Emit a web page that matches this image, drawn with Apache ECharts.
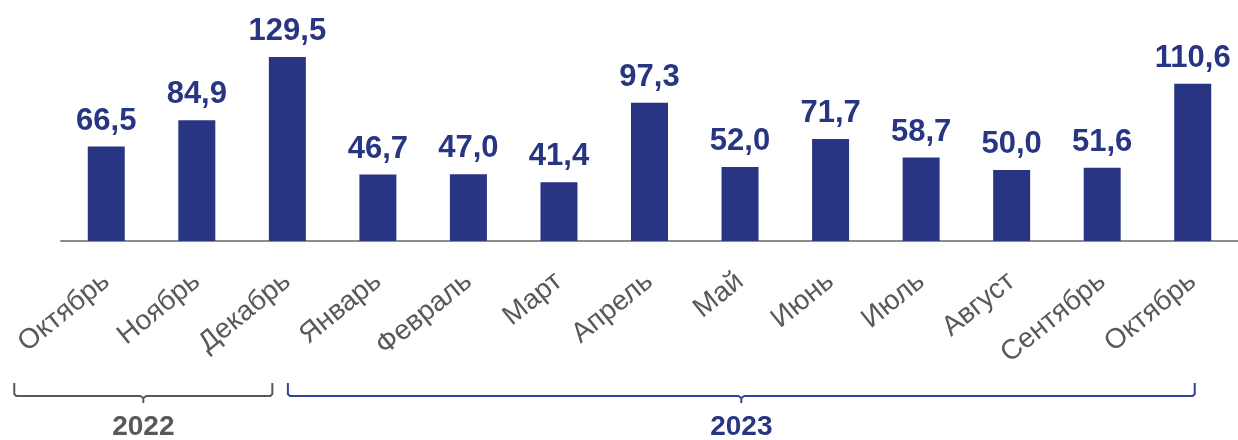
<!DOCTYPE html>
<html><head><meta charset="utf-8">
<script src="https://cdn.jsdelivr.net/npm/echarts@6/dist/echarts.min.js"></script>
<style>html,body{margin:0;padding:0;background:#fff}#c{width:1238px;height:440px}</style>
</head><body><div id="c"></div>
<script>
const categories = ['Октябрь','Ноябрь','Декабрь','Январь','Февраль','Март','Апрель','Май','Июнь','Июль','Август','Сентябрь','Октябрь'];
const values = [66.5,84.9,129.5,46.7,47.0,41.4,97.3,52.0,71.7,58.7,50.0,51.6,110.6];
const years = [{label:'2022', from:0, to:2}, {label:'2023', from:3, to:12}];

const FONT = '"Liberation Sans", Arial, sans-serif';
const BLUE = '#283582';
const GRAY = '#595959';
const chart = echarts.init(document.getElementById('c'));
chart.setOption({
  animation:false,
  grid:{left:61,right:0,top:42,bottom:199},
  xAxis:{type:'category',data:categories,
    axisLine:{lineStyle:{color:'#8c8c8c',width:2}},
    axisTick:{show:false},
    axisLabel:{rotate:39,margin:37,color:GRAY,fontSize:28,fontFamily:FONT,interval:0}},
  yAxis:{type:'value',min:0,max:140,show:false,splitLine:{show:false}},
  series:[{type:'bar',data:values,barWidth:37,
    itemStyle:{color:BLUE},
    label:{show:true,position:'top',distance:10,color:BLUE,fontSize:31,fontWeight:'bold',fontFamily:FONT,
      formatter:p=>p.value.toFixed(1).replace('.',',')}}]
});

const yTop=383, yBot=396, yTick=403;
const defs=[{off:[-92,-15],color:GRAY,textColor:GRAY},{off:[-90,2],color:'#2f4398',textColor:BLUE}];
const g=[];
years.forEach((y,i)=>{
  const x0=chart.convertToPixel({xAxisIndex:0},y.from)+defs[i].off[0];
  const x1=chart.convertToPixel({xAxisIndex:0},y.to)+defs[i].off[1];
  const xm=(x0+x1)/2;
  g.push({type:'polyline',shape:{points:[[x0,yTop],[x0,yBot-2],[x0+2,yBot],[xm-3,yBot],[xm,yBot+2],[xm,yTick]]},style:{stroke:defs[i].color,lineWidth:2,fill:null}});
  g.push({type:'polyline',shape:{points:[[xm,yBot+2],[xm+3,yBot],[x1-2,yBot],[x1,yBot-2],[x1,yTop]]},style:{stroke:defs[i].color,lineWidth:2,fill:null}});
  g.push({type:'text',x:xm,y:427,style:{text:y.label,fill:defs[i].textColor,font:'bold 28px '+FONT,textAlign:'center',textVerticalAlign:'middle'}});
});
chart.setOption({graphic:g});
</script></body></html>
